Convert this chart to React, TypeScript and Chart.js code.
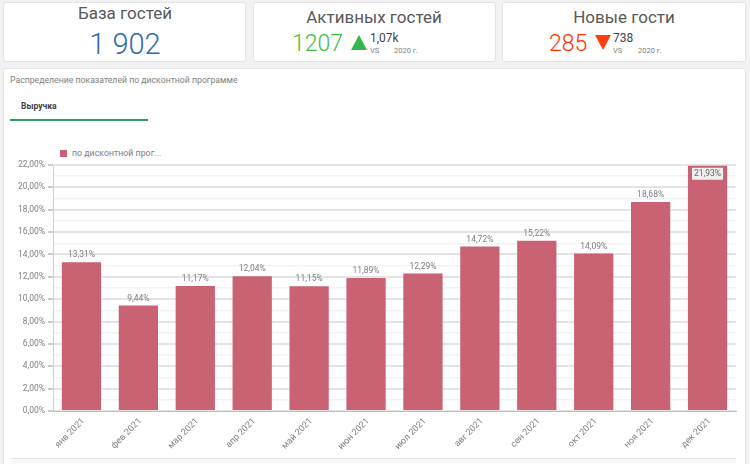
import { useEffect, useRef } from "react";
import { Chart, registerables } from "chart.js";

Chart.register(...registerables);

const months = ["янв 2021", "фев 2021", "мар 2021", "апр 2021", "май 2021", "июн 2021", "июл 2021", "авг 2021", "сен 2021", "окт 2021", "ноя 2021", "дек 2021"];
const discountShare = [13.31, 9.44, 11.17, 12.04, 11.15, 11.89, 12.29, 14.72, 15.22, 14.09, 18.68, 21.93];
const seriesName = "по дисконтной прог...";

const barColor = "#c96272";
const fontFamily = "Roboto, sans-serif";
const pct = (v: number) => v.toFixed(2).replace(".", ",") + "%";

// value labels: above the bar, or inside it in a light box when there is no room
const valueLabels = {
  id: "valueLabels",
  afterDatasetsDraw(chart: Chart) {
    const { ctx } = chart;
    const meta = chart.getDatasetMeta(0);
    ctx.save();
    ctx.font = `8.5px ${fontFamily}`;
    ctx.textAlign = "center";
    ctx.textBaseline = "middle";
    meta.data.forEach((bar, i) => {
      const value = discountShare[i];
      const text = pct(value);
      if (value > 20) {
        const w = ctx.measureText(text).width + 4;
        ctx.fillStyle = "#efefef";
        ctx.fillRect(bar.x - w / 2, bar.y + 2, w, 12);
        ctx.fillStyle = "#666666";
        ctx.fillText(text, bar.x, bar.y + 8);
      } else {
        ctx.fillStyle = "#808080";
        ctx.fillText(text, bar.x, bar.y - 7);
      }
    });
    ctx.restore();
  },
};

function BarChart() {
  const canvasRef = useRef<HTMLCanvasElement>(null);

  useEffect(() => {
    const canvas = canvasRef.current;
    if (!canvas) return;

    const chart = new Chart(canvas.getContext("2d")!, {
      type: "bar",
      data: {
        labels: months,
        datasets: [
          {
            label: seriesName,
            data: discountShare,
            backgroundColor: barColor,
            categoryPercentage: 0.69,
            barPercentage: 1,
          },
        ],
      },
      options: {
        animation: false,
        responsive: false,
        layout: { padding: { top: 34, right: 10 } },
        plugins: { legend: { display: false }, tooltip: { enabled: false } },
        scales: {
          x: {
            afterFit: (axis) => {
              axis.height = 50;
            },
            grid: { display: false },
            border: { color: "#bdbdbd", width: 1 },
            ticks: {
              autoSkip: false,
              minRotation: 45,
              maxRotation: 45,
              color: "#808080",
              font: { family: fontFamily, size: 9 },
              padding: -3,
              labelOffset: 2,
            },
          },
          y: {
            min: 0,
            max: 22,
            afterFit: (axis) => {
              axis.width = 50;
            },
            border: { color: "#d0d0d0", width: 1 },
            grid: {
              color: (c) => (c.tick.value % 2 === 0 ? "#e4e4e4" : "#f3f3f3"),
              lineWidth: (c) => (c.tick.value % 2 === 0 ? 2 : 1.5),
              tickColor: (c) => (c.tick.value % 2 === 0 ? "#cccccc" : "rgba(0,0,0,0)"),
              tickLength: 5,
            },
            ticks: {
              stepSize: 1,
              autoSkip: false,
              color: "#808080",
              font: { family: fontFamily, size: 8.5 },
              padding: 3,
              callback: (v) => (Number(v) % 2 === 0 ? pct(Number(v)) : ""),
            },
          },
        },
      },
      plugins: [valueLabels],
    });

    return () => chart.destroy();
  }, []);

  return <canvas ref={canvasRef} width={743} height={330} style={{ position: "absolute", left: 3, top: 131, width: 743, height: 330 }} />;
}

const at = (left: number, top: number, size: number, color: string, extra: object = {}) => ({
  position: "absolute" as const,
  left,
  top,
  fontSize: size,
  color,
  lineHeight: 1,
  whiteSpace: "nowrap" as const,
  ...extra,
});

const card = (left: number, width: number, top: number, height: number) => ({
  position: "absolute" as const,
  left,
  top,
  width,
  height,
  boxSizing: "border-box" as const,
  background: "#fff",
  border: "1px solid #e4e4e4",
  borderRadius: 3,
});

const Triangle = ({ left, top, color, down }: { left: number; top: number; color: string; down?: boolean }) => (
  <div
    style={{
      position: "absolute",
      left,
      top,
      width: 16,
      height: 15,
      background: color,
      clipPath: down ? "polygon(0 0, 100% 0, 50% 100%)" : "polygon(50% 0, 100% 100%, 0 100%)",
    }}
  />
);

const titleStyle = { transform: "translateX(-50%)" };

export default function App() {
  return (
    <div style={{ position: "absolute", left: 0, top: 0, width: 750, height: 464, overflow: "hidden", background: "#f2f2f2", fontFamily }}>
      <div style={card(3, 243, 2, 60)} />
      <div style={card(253, 243, 2, 60)} />
      <div style={card(502, 244, 2, 60)} />
      <div style={card(3, 743, 68, 410)} />

      <span style={at(125, 5, 17, "#595959", titleStyle)}>База гостей</span>
      <span style={at(125, 30, 29, "#2f6ca8", { ...titleStyle, fontWeight: 300 })}>1 902</span>

      <span style={at(374, 9, 17, "#595959", titleStyle)}>Активных гостей</span>
      <span style={at(292, 32, 23, "#3dbb3d", { fontWeight: 300 })}>1207</span>
      <Triangle left={351} top={35} color="#35b84a" />
      <span style={at(370, 32, 12, "#444444")}>1,07k</span>
      <span style={at(370, 47, 7.5, "#808080")}>VS</span>
      <span style={at(394, 47, 7.5, "#808080")}>2020 г.</span>

      <span style={at(624, 9, 17, "#595959", titleStyle)}>Новые гости</span>
      <span style={at(549, 32, 23, "#ff3300", { fontWeight: 300 })}>285</span>
      <Triangle left={595} top={35} color="#ff3d0d" down />
      <span style={at(613, 32, 12, "#444444")}>738</span>
      <span style={at(613, 47, 7.5, "#808080")}>VS</span>
      <span style={at(638, 47, 7.5, "#808080")}>2020 г.</span>

      <span style={at(10, 76, 8.7, "#808080")}>Распределение показателей по дисконтной программе</span>
      <span style={at(21, 102, 8.5, "#404040", { fontWeight: 700 })}>Выручка</span>
      <div style={{ position: "absolute", left: 10, top: 119, width: 138, height: 2, background: "#2aa05a" }} />

      <div style={{ position: "absolute", left: 59.5, top: 150, width: 7, height: 7, background: barColor }} />
      <span style={at(72, 149, 8.8, "#808080")}>{seriesName}</span>

      <BarChart />

      <div style={{ position: "absolute", left: 11, top: 458, width: 725, height: 6, background: "#f8f8f8", borderTop: "1px solid #e6e6e6" }} />
    </div>
  );
}
